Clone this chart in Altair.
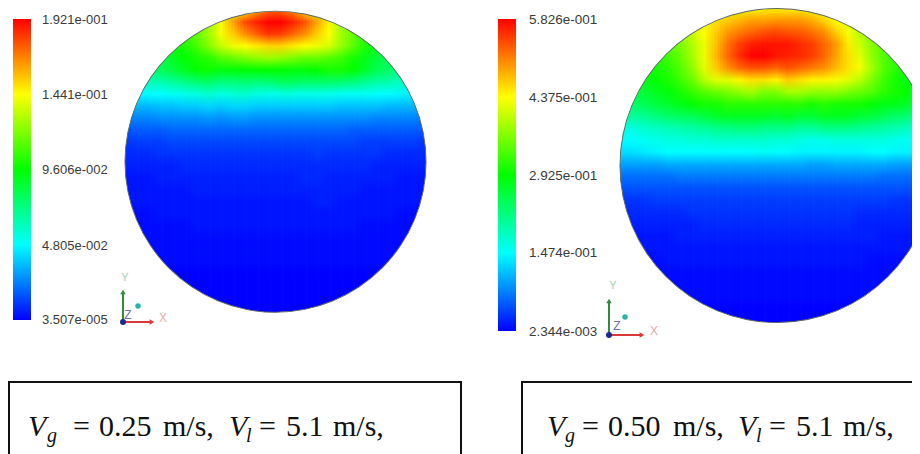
import altair as alt

# ---------- field values, percent of colour range ----------
D1_TOP = 10
D1_LEFT = 125
D1_ROWS = [
 [50,50,50,50,50,50,50,50,60,68,76,84,90,90,86,78,68,60,50,50,50,50,50,50,50,50],
 [50,50,50,50,50,52,58,66,74,84,93,97,100,100,97,92,84,76,66,58,52,50,50,50,50,50],
 [50,50,50,50,52,54,60,66,74,80,86,91,95,94,90,86,80,75,66,60,54,50,50,50,50,50],
 [46,46,46,48,50,53,57,63,69,73,75,77,79,79,77,75,73,71,65,59,53,48,46,46,46,46],
 [42,42,42,44,47,50,52,54,58,60,62,64,65,64,62,60,60,58,56,52,48,44,42,42,42,42],
 [36,36,38,41,44,47,50,51,49,49,50,50,50,50,49,49,50,52,52,50,46,42,40,37,36,36],
 [28,30,32,33,35,37,39,40,38,38,39,38,39,41,41,40,40,40,39,38,36,34,33,31,28,28],
 [22,24,25,25,26,27,28,30,28,29,30,28,27,28,28,27,27,27,26,26,26,25,25,24,24,22],
 [17,18,18,19,19,20,20,21,20,21,21,20,20,20,20,20,20,20,19,19,19,19,18,18,18,17],
 [12,13,13,14,14,14,14,15,14,15,15,14,14,14,14,14,14,14,14,14,14,13,13,13,13,12],
 [8,9,9,9,10,10,10,10,10,10,10,10,10,10,10,10,10,10,10,9,9,9,9,9,9,8],
 [5,6,6,6,7,7,7,7,7,7,7,7,7,7,7,7,7,7,7,7,6,6,6,6,6,5],
 [4,4,4,5,5,5,5,5,5,5,5,5,5,5,5,5,6,5,5,5,5,5,4,4,4,4],
 [3,3,3,3,3,4,4,4,4,4,4,4,4,4,4,4,4,4,4,4,4,3,3,3,3,3],
 [2,2,2,3,3,3,3,3,3,3,3,3,3,3,3,4,4,3,3,3,3,3,3,2,2,2],
 [2,2,2,2,2,2,3,3,3,3,3,3,3,3,3,3,3,3,3,3,2,2,2,2,2,2],
 [2,2,2,2,2,2,2,2,2,2,2,2,2,2,2,2,3,3,2,2,2,2,2,2,2,2],
 [1,1,1,2,2,2,2,2,2,2,2,2,2,2,2,2,2,2,2,2,2,2,2,1,1,1],
 [1,1,1,1,1,1,2,2,2,2,2,2,2,2,2,2,2,2,2,2,1,1,1,1,1,1],
 [1,1,1,1,1,1,1,1,1,1,1,1,1,1,1,1,1,1,1,1,1,1,1,1,1,1],
 [1,1,1,1,1,1,1,1,1,1,1,1,1,1,1,1,1,1,1,1,1,1,1,1,1,1],
 [0,0,0,1,1,1,1,1,1,1,1,1,1,1,1,1,1,1,1,1,1,1,1,0,0,0],
 [0,0,0,0,0,0,0,0,0,0,0,0,0,0,0,0,0,0,0,0,0,0,0,0,0,0],
 [0,0,0,0,0,0,0,0,0,0,0,0,0,0,0,0,0,0,0,0,0,0,0,0,0,0],
 [0,0,0,0,0,0,0,0,0,0,0,0,0,0,0,0,0,0,0,0,0,0,0,0,0,0],
 [0,0,0,0,0,0,0,0,0,0,0,0,0,0,0,0,0,0,0,0,0,0,0,0,0,0],
 [0,0,0,0,0,0,0,0,0,0,0,0,0,0,0,0,0,0,0,0,0,0,0,0,0,0],
]
D2_TOP = 8
D2_LEFT = 620
D2_ROWS = [
 [60,60,60,60,60,60,62,66,68,70,72,74,76,76,76,76,74,72,70,68,64,60,60,60,60,60,60],
 [60,60,60,60,60,62,66,72,78,80,82,84,84,85,85,85,83,79,75,72,66,62,60,60,60,60,60],
 [58,58,58,58,60,64,70,75,80,85,88,90,92,93,92,91,89,86,80,74,68,62,58,58,58,58,58],
 [54,54,54,54,58,62,67,73,81,89,94,97,98,98,98,96,94,90,85,77,70,63,58,54,54,54,54],
 [50,50,50,52,56,60,66,73,82,90,96,100,100,98,97,96,94,90,84,78,72,64,58,54,50,50,50],
 [48,48,50,52,54,58,64,72,80,86,90,92,92,90,92,90,88,86,82,78,74,66,58,54,50,48,48],
 [46,46,48,50,52,56,60,68,72,72,76,78,78,76,80,78,76,76,74,72,68,62,56,52,48,46,46],
 [43,43,45,47,49,52,55,58,60,62,64,66,62,62,66,66,64,64,64,62,60,58,54,52,50,46,44],
 [40,40,42,44,46,48,50,52,52,54,54,54,54,54,54,54,52,54,52,52,52,50,48,48,46,42,40],
 [35,35,36,38,40,41,42,44,46,47,47,47,47,45,47,45,45,47,47,47,45,44,42,40,39,36,34],
 [28,28,30,31,32,33,34,35,37,37,38,38,37,37,37,35,35,37,37,37,36,35,34,33,31,30,28],
 [25,25,26,27,28,28,29,29,30,30,30,30,30,29,29,28,27,27,28,28,28,28,28,27,26,26,25],
 [22,22,23,24,25,25,25,25,25,25,25,25,26,25,25,24,24,24,24,24,24,25,25,24,24,23,22],
 [16,16,16,16,17,17,17,17,17,17,17,17,17,17,17,17,16,16,17,17,17,17,17,16,16,16,16],
 [11,11,11,11,11,12,12,12,12,12,12,12,12,12,12,12,12,12,12,12,12,12,11,11,11,11,11],
 [8,8,8,8,8,8,8,8,8,8,8,8,8,8,8,8,8,8,8,8,8,8,8,8,8,8,8],
 [5,5,5,6,6,6,6,6,6,6,6,6,6,6,6,6,6,6,6,6,6,6,6,5,5,5,5],
 [4,4,4,4,4,4,5,5,5,5,5,5,5,5,5,5,5,5,5,5,4,4,4,4,4,4,4],
 [3,3,3,3,3,3,3,4,4,4,4,4,4,4,4,4,4,4,4,4,3,3,3,3,3,3,3],
 [2,2,2,2,2,3,3,3,3,3,3,3,3,3,3,3,3,3,3,3,3,3,2,2,2,2,2],
 [2,2,2,2,2,2,2,2,2,2,2,2,2,2,2,2,2,2,2,2,2,2,2,2,2,2,2],
 [1,1,1,1,2,2,2,2,2,2,2,2,2,2,2,2,2,2,2,2,2,1,1,1,1,1,1],
 [1,1,1,1,1,1,1,1,1,1,1,1,1,1,1,1,1,1,1,1,1,1,1,1,1,1,1],
 [1,1,1,1,1,1,1,1,1,1,1,1,1,1,1,1,1,1,1,1,1,1,1,1,1,1,1],
 [0,0,0,0,1,1,1,1,1,1,1,1,1,1,1,1,1,1,1,1,1,1,0,0,0,0,0],
 [0,0,0,0,0,0,0,0,0,0,0,0,0,0,0,0,0,0,0,0,0,0,0,0,0,0,0],
 [0,0,0,0,0,0,0,0,0,0,0,0,0,0,0,0,0,0,0,0,0,0,0,0,0,0,0],
 [0,0,0,0,0,0,0,0,0,0,0,0,0,0,0,0,0,0,0,0,0,0,0,0,0,0,0],
]
LEG1_LABELS = ["1.921e-001", "1.441e-001", "9.606e-002", "4.805e-002", "3.507e-005"]
LEG1_Y = [20, 95, 170, 246, 320]
LEG2_LABELS = ["5.826e-001", "4.375e-001", "2.925e-001", "1.474e-001", "2.344e-003"]
LEG2_Y = [20, 98, 176, 253, 332]
RAINBOW = ["#0000ff", "#00ffff", "#00ff00", "#ffff00", "#ff0000"]

W, H = 904, 446
xs = alt.Scale(domain=[8, 912], range=[0, W])
ys = alt.Scale(domain=[8, 454], range=[0, H])
X = lambda f="x": alt.X(f"{f}:Q", scale=xs, axis=None)
Y = lambda f="y": alt.Y(f"{f}:Q", scale=ys, axis=None)


def colour(p):
    t = max(0, min(100, p)) / 25
    i = min(3, int(t))
    f = t - i
    a = RAINBOW[i]
    b = RAINBOW[i + 1]
    ch = [round(int(a[k:k+2], 16) * (1 - f) + int(b[k:k+2], 16) * f) for k in (1, 3, 5)]
    return "#%02x%02x%02x" % tuple(ch)


def grad(values):
    n = len(values)
    stops = [alt.GradientStop(offset=j / (n - 1), color=colour(v)) for j, v in enumerate(values)]
    return alt.LinearGradient(gradient="linear", x1=0, x2=0, y1=0, y2=1, stops=stops)


def rect(x, x2, y, y2, **mark):
    return alt.Chart(alt.Data(values=[{"x": x, "x2": x2, "y": y, "y2": y2}])).mark_rect(**mark).encode(
        x=X(), x2="x2:Q", y=Y(), y2="y2:Q")


def disk(rows, left, top, cx, cy, r):
    layers = []
    nr, nc = len(rows), len(rows[0])
    bottom = top + 12 * (nr - 1)
    # Each column is painted at four small sideways shifts with falling opacity,
    # which averages the stripes into a soft blend between neighbouring columns.
    for shift, op in ((-4.5, 1), (-1.5, 1 / 2), (1.5, 1 / 3), (4.5, 1 / 4)):
        for c in range(nc):
            col = [rows[j][c] for j in range(nr)]
            xc = left + 12 * c + shift
            layers.append(rect(xc - 6, xc + 6 + (0.4 if op == 1 else 0), top, bottom, color=grad(col), opacity=op))
    d = alt.Data(values=[{"x": cx, "y": cy}])
    layers.append(alt.Chart(d).mark_arc(radius=r, radius2=r * 1.55, theta=0, theta2=6.2832, color="white").encode(x=X(), y=Y()))
    layers.append(alt.Chart(d).mark_arc(radius=r - 0.4, radius2=r + 0.5, theta=0, theta2=6.2832, color="#5a6662").encode(x=X(), y=Y()))
    return layers


def texts(rows, **mark):
    return alt.Chart(alt.Data(values=rows)).mark_text(**mark).encode(x=X(), y=Y(), text="t:N")


def legend(x, y0, y1, labels, label_y, lx, size):
    return [
        rect(x, x + 18, y0, y1, color=grad([100, 75, 50, 25, 0])),
        texts([{"x": lx, "y": yy, "t": s} for s, yy in zip(labels, label_y)], font="Liberation Sans",
              fontSize=size, align="left", baseline="middle", color="#3a3a3a"),
    ]


def triad(ox, oy, gy, rx, yl, zl, xl, dot):
    rule = lambda x, x2, y, y2, c: alt.Chart(alt.Data(values=[{"x": x, "x2": x2, "y": y, "y2": y2}])).mark_rule(
        color=c, strokeWidth=2).encode(x=X(), x2="x2:Q", y=Y(), y2="y2:Q")
    pt = lambda x, y, c, shape, size: alt.Chart(alt.Data(values=[{"x": x, "y": y}])).mark_point(
        shape=shape, size=size, filled=True, color=c, opacity=1).encode(x=X(), y=Y())
    return [
        rule(ox, ox, oy, gy, "#2f8a3c"),
        rule(ox, rx, oy, oy, "#d83a3a"),
        pt(ox, gy, "#2f8a3c", "triangle-up", 30),
        pt(rx, oy, "#d83a3a", "triangle-right", 30),
        pt(ox, oy, "#1a2a90", "circle", 36),
        pt(dot[0], dot[1], "#27b5a5", "circle", 30),
        texts([{"x": yl[0], "y": yl[1], "t": "Y"}], font="Liberation Sans", fontSize=11, color="#a9cdb0", baseline="middle", align="center"),
        texts([{"x": zl[0], "y": zl[1], "t": "Z"}], font="Liberation Sans", fontSize=12, color="#6a70a8", baseline="middle", align="center"),
        texts([{"x": xl[0], "y": xl[1], "t": "X"}], font="Liberation Sans", fontSize=12, color="#eba9a9", baseline="middle", align="center"),
    ]


def caption(v1, g, parts1, v2, l, parts2):
    serif = "Liberation Serif"
    base = 427
    return [
        texts([{"x": v1, "y": base, "t": "V"}, {"x": v2, "y": base, "t": "V"}], font=serif, fontSize=30, fontStyle="italic", align="left", color="#111"),
        texts([{"x": g, "y": base + 9, "t": "g"}], font=serif, fontSize=20, fontStyle="italic", align="left", color="#111"),
        texts([{"x": l, "y": base + 9, "t": "l"}], font=serif, fontSize=20, fontStyle="italic", align="left", color="#111"),
        texts([{"x": x, "y": base, "t": s} for x, s in parts1 + parts2], font=serif, fontSize=30, align="left", color="#111"),
    ]


layers = []
layers += disk(D1_ROWS, D1_LEFT, D1_TOP, 275.5, 161.7, 150.5)
layers += disk(D2_ROWS, D2_LEFT, D2_TOP, 777, 165.5, 157)
layers += legend(13, 19, 320, LEG1_LABELS, LEG1_Y, 42, 13)
layers += legend(498, 19, 331, LEG2_LABELS, LEG2_Y, 529, 13.5)
layers += triad(123, 322, 292, 152, (125, 278), (128, 315), (163, 318), (138, 306))
layers += triad(609, 335, 301, 642, (613, 286), (617, 326), (654, 331), (625, 317))
layers.append(rect(9, 461, 382, 470, fillOpacity=0, stroke="#111", strokeWidth=2))
layers.append(rect(522, 960, 382, 470, fillOpacity=0, stroke="#111", strokeWidth=2))
layers += caption(28, 47, [(73, "="), (99, "0.25"), (163, "m/s,")],
                  229, 246, [(259, "="), (286, "5.1"), (333, "m/s,")])
layers += caption(547, 565, [(582, "="), (608, "0.50"), (673, "m/s,")],
                  738, 756, [(769, "="), (796, "5.1"), (843, "m/s,")])

chart = alt.layer(*layers).properties(width=W, height=H, padding=0, background="white",
                                      autosize=alt.AutoSizeParams(type="none")).configure_view(strokeWidth=0)
chart.save("out.html", embed_options={"renderer": "svg", "actions": False})
